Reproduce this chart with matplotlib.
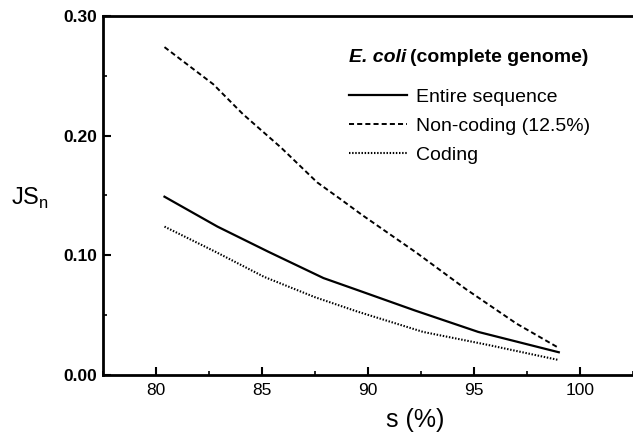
import matplotlib.pyplot as plt
from matplotlib.ticker import MultipleLocator

plt.rcParams['font.family'] = ['Liberation Sans', 'DejaVu Sans']

# values
s_entire = [80.4, 82.9, 85.3, 87.9, 89.5, 92.2, 95.2, 99.0]
entire = [0.149, 0.124, 0.103, 0.081, 0.071, 0.054, 0.036, 0.019]

s_noncoding = [80.4, 82.7, 84.1, 85.9, 87.6, 88.7, 89.7, 92.3, 94.6, 97.0, 99.0]
noncoding = [0.274, 0.243, 0.218, 0.190, 0.161, 0.147, 0.134, 0.102, 0.072, 0.043, 0.0226]

s_coding = [80.4, 82.8, 85.1, 87.5, 89.5, 92.6, 95.7, 99.0]
coding = [0.124, 0.103, 0.082, 0.065, 0.053, 0.036, 0.025, 0.0125]

labels = ['Entire sequence', 'Non-coding (12.5%)', 'Coding']


def main():
    fig = plt.figure(figsize=(6.33, 4.46), dpi=100)
    W, H = 633, 446
    ax = fig.add_axes([103 / W, 1 - 375 / H, 1 - 103 / W, (375 - 16) / H])

    ax.plot(s_entire, entire, color='black', lw=1.6, ls='-', label=labels[0])
    ax.plot(s_noncoding, noncoding, color='black', lw=1.4, ls=(0, (2.6, 1.6)), label=labels[1])
    ax.plot(s_coding, coding, color='black', lw=1.5, ls=(0, (0.7, 0.8)), label=labels[2])

    ax.set_xlim(77.5, 102.5)
    ax.set_ylim(0, 0.30)
    ax.xaxis.set_major_locator(MultipleLocator(5))
    ax.xaxis.set_minor_locator(MultipleLocator(2.5))
    ax.yaxis.set_major_locator(MultipleLocator(0.10))
    ax.yaxis.set_minor_locator(MultipleLocator(0.05))
    ax.yaxis.set_major_formatter(lambda v, p: f'{v:.2f}')
    ax.tick_params(which='major', direction='in', length=6, width=1.5, labelsize=12.5)
    ax.tick_params(which='minor', direction='in', length=3, width=1.2)
    ax.tick_params(axis='x', pad=5.5)
    ax.tick_params(axis='y', pad=4)
    for lab in ax.get_yticklabels():
        lab.set_fontweight('bold')

    for side in ['left', 'bottom', 'top']:
        ax.spines[side].set_linewidth(2)
    ax.spines['right'].set_visible(False)

    fig.text(11 / W, 1 - 198 / H, r'JS$_\mathregular{n}$', fontsize=17, va='center', ha='left')
    fig.text(415 / W, 1 - 420 / H, 's (%)', fontsize=18, va='center', ha='center')

    # legend title: italic species name followed by plain bold text
    t = fig.text(349 / W, 1 - 57 / H, 'E. coli', fontsize=14, fontweight='bold',
                 fontstyle='italic', va='center', ha='left')
    ax.annotate('(complete genome)', xy=(1, 0.5), xycoords=t, xytext=(3, 0),
                textcoords='offset points', fontsize=14, fontweight='bold', va='center', ha='left')

    ax.legend(loc='upper left', bbox_to_anchor=(349 / W, 1 - 88 / H), bbox_transform=fig.transFigure,
              frameon=False, fontsize=14, handlelength=3.0, handletextpad=0.43,
              labelspacing=0.6, borderpad=0, borderaxespad=0)

    fig.savefig('out.png', dpi=100)


if __name__ == '__main__':
    main()
